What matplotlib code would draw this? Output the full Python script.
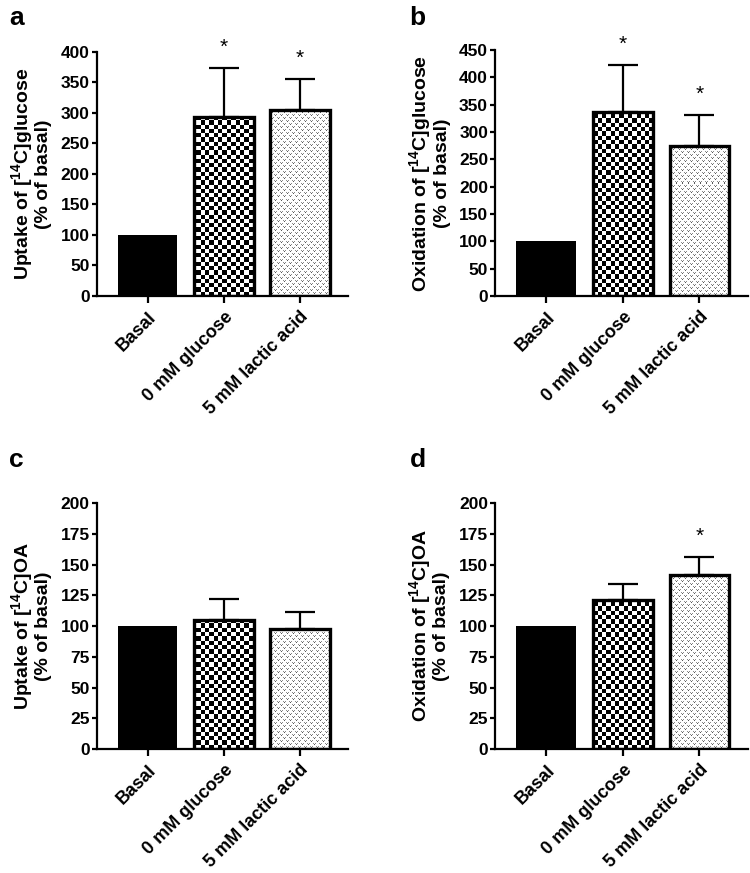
import numpy as np
import matplotlib
matplotlib.use('Agg')
import matplotlib.pyplot as plt

# ---------------- data ----------------
categories = ['Basal', '0 mM glucose', '5 mM lactic acid']

uptake_glucose = [100, 293, 305]
uptake_glucose_err = [0, 81, 50]
oxid_glucose = [100, 337, 275]
oxid_glucose_err = [0, 86, 56]
uptake_oa = [100, 104.5, 97.5]
uptake_oa_err = [0, 17.5, 13.5]
oxid_oa = [100, 121, 141.5]
oxid_oa_err = [0, 13.5, 14.5]

sig_a = [False, True, True]
sig_b = [False, True, True]
sig_c = [False, False, False]
sig_d = [False, False, True]

ylabels = [
    'Uptake of [$^{14}$C]glucose\n(% of basal)',
    'Oxidation of [$^{14}$C]glucose\n(% of basal)',
    'Uptake of [$^{14}$C]OA\n(% of basal)',
    'Oxidation of [$^{14}$C]OA\n(% of basal)',
]
panel_letters = ['a', 'b', 'c', 'd']
ylims = [400, 450, 200, 200]
ysteps = [50, 50, 25, 25]

# ---------------- style ----------------
plt.rcParams['font.family'] = ['Liberation Sans', 'DejaVu Sans']
plt.rcParams['font.weight'] = 'bold'
plt.rcParams['mathtext.fontset'] = 'custom'
for k in ['rm', 'it', 'bf', 'sf']:
    plt.rcParams['mathtext.' + k] = 'Liberation Sans:bold'
plt.rcParams['mathtext.default'] = 'rm'

DPI = 100
fig = plt.figure(figsize=(7.5, 8.73), dpi=DPI)

rects = [
    (0.129, 0.661, 0.335, 0.2796),
    (0.660, 0.661, 0.337, 0.2817),
    (0.129, 0.142, 0.335, 0.2818),
    (0.660, 0.142, 0.337, 0.2818),
]
letter_pos = [(0.012, 1 - 25 / 873), (0.546, 1 - 25 / 873),
              (0.012, 1 - 467 / 873), (0.546, 1 - 467 / 873)]

datasets = [
    (uptake_glucose, uptake_glucose_err, sig_a),
    (oxid_glucose, oxid_glucose_err, sig_b),
    (uptake_oa, uptake_oa_err, sig_c),
    (oxid_oa, oxid_oa_err, sig_d),
]

XL = (-0.67, 2.63)
BW = 0.78


def checker_image(nx, ny):
    ii, jj = np.meshgrid(np.arange(nx), np.arange(ny))
    return ((ii + jj) % 2).astype(float)


def speckle_image(nx, ny):
    tile = np.array([
        [0.55, 1.0, 0.55, 1.0, 1.0, 1.0],
        [1.0, 0.35, 1.0, 1.0, 1.0, 1.0],
        [1.0, 1.0, 1.0, 1.0, 1.0, 1.0],
        [1.0, 1.0, 1.0, 0.55, 1.0, 0.55],
        [1.0, 1.0, 1.0, 1.0, 0.35, 1.0],
        [1.0, 1.0, 1.0, 1.0, 1.0, 1.0],
    ])
    reps_y = ny // tile.shape[0] + 1
    reps_x = nx // tile.shape[1] + 1
    return np.tile(tile, (reps_y, reps_x))[:ny, :nx]


for idx, (vals, errs, sig) in enumerate(datasets):
    ax = fig.add_axes(rects[idx])
    ymax = ylims[idx]
    x = np.arange(len(categories))

    # error bars (upper only), behind the bars
    ax.errorbar(x[1:], vals[1:], yerr=[[0] * (len(x) - 1), errs[1:]],
                fmt='none', ecolor='black', elinewidth=1.6, capsize=11,
                capthick=1.6, zorder=1)

    faces = ['black', 'white', 'white']
    bars = ax.bar(x, vals, width=BW, color=faces, edgecolor='black',
                  linewidth=0, zorder=2)

    # pattern fills
    axw_px = rects[idx][2] * 750
    axh_px = rects[idx][3] * 873
    n_cx = int(round(axw_px / 4.3))
    n_cy = int(round(axh_px / 4.3))
    im1 = ax.imshow(checker_image(n_cx, n_cy), cmap='gray', vmin=0, vmax=1,
                    extent=(XL[0], XL[1], 0, ymax), aspect='auto',
                    interpolation='nearest', origin='lower', zorder=2.5)
    im1.set_clip_path(bars.patches[1])
    n_px = int(round(axw_px))
    n_py = int(round(axh_px))
    im2 = ax.imshow(speckle_image(n_px, n_py), cmap='gray', vmin=0, vmax=1,
                    extent=(XL[0], XL[1], 0, ymax), aspect='auto',
                    interpolation='nearest', origin='upper', zorder=2.5)
    im2.set_clip_path(bars.patches[2])

    # thick outlines
    ax.bar(x[1:], vals[1:], width=BW, facecolor='none', edgecolor='black',
           linewidth=2.4, zorder=3)

    # significance stars
    for xi, v, e, s in zip(x, vals, errs, sig):
        if s:
            ax.annotate('*', (xi, v + e), xytext=(0, 8), textcoords='offset points',
                        ha='center', va='bottom', fontsize=15,
                        fontweight='normal', zorder=4)

    ax.set_xlim(*XL)
    ax.set_ylim(0, ymax)
    ax.set_yticks(np.arange(0, ymax + 1, ysteps[idx]))
    ax.set_xticks(x)
    ax.set_xticklabels(categories, rotation=45, ha='right',
                       rotation_mode='anchor', fontsize=13, fontweight='bold')
    for lab in ax.get_yticklabels():
        lab.set_fontsize(12.5)
        lab.set_fontweight('bold')

    for sp in ['top', 'right']:
        ax.spines[sp].set_visible(False)
    for sp in ['left', 'bottom']:
        ax.spines[sp].set_linewidth(1.6)
    ax.tick_params(axis='y', length=3.5, width=1.6, pad=1.5)
    ax.tick_params(axis='x', length=5, width=1.6, pad=4)

    ax.set_ylabel(ylabels[idx], fontsize=14, fontweight='bold',
                  linespacing=1.05, labelpad=6)

    fig.text(letter_pos[idx][0], letter_pos[idx][1], panel_letters[idx],
             fontsize=19, fontweight='bold', va='baseline', ha='left')

fig.savefig('out.png', dpi=DPI)
